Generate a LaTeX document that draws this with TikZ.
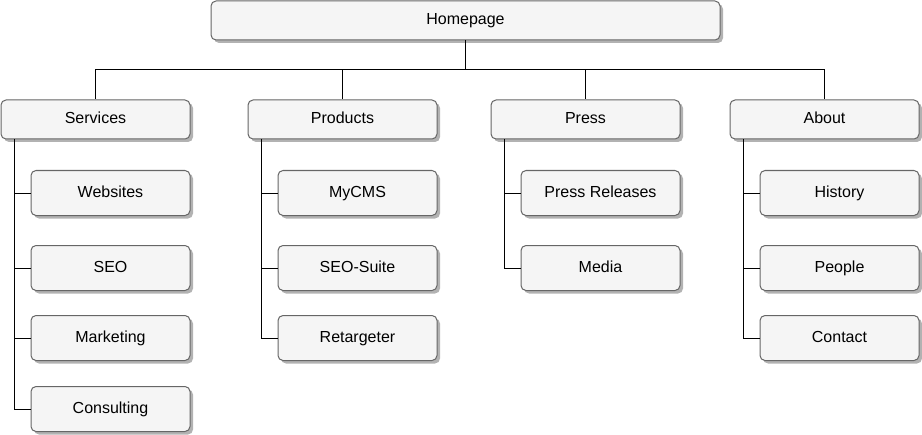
\documentclass[tikz,border=0pt]{standalone}
\usepackage{fontspec}
\setmainfont{Liberation Sans}
\usetikzlibrary{shadows}

\begin{document}
\begin{tikzpicture}[x=0.75pt,y=0.75pt,yscale=-1,xscale=1,
  page/.style={draw={rgb,255:red,102;green,102;blue,102},fill={rgb,255:red,245;green,245;blue,245},
    rounded corners=3.75pt,line width=0.75pt,inner sep=0pt,font=\fontsize{12}{14}\selectfont,
    text height=8.8pt,text depth=2.6pt,
    drop shadow={shadow xshift=2.25pt,shadow yshift=-2.25pt,fill=black,opacity=0.3}},
  section/.style={page,minimum width=141.75pt,minimum height=29.25pt},
  subpage/.style={page,minimum width=119.25pt,minimum height=33.75pt},
  link/.style={line width=0.75pt}]
\useasboundingbox (0,0) rectangle (922,435);

% Homepage
\node[page,minimum width=381.75pt,minimum height=29.25pt] (home) at (465.5,20.5) {Homepage};

% Sections
\node[section] (serv) at (95.5,119.5) {Services};
\node[section] (prod) at (342.5,119.5) {Products};
\node[section] (press) at (585.5,119.5) {Press};
\node[section] (about) at (824.5,119.5) {About};

% Services pages
\node[subpage] (web) at (110.5,193) {Websites};
\node[subpage] (seo) at (110.5,268) {SEO};
\node[subpage] (mark) at (110.5,338) {Marketing};
\node[subpage] (cons) at (110.5,409) {Consulting};

% Products pages
\node[subpage] (cms) at (357.5,193) {MyCMS};
\node[subpage] (suite) at (357.5,268) {SEO-Suite};
\node[subpage] (retarg) at (357.5,338) {Retargeter};

% Press pages
\node[subpage] (rel) at (600.5,193) {Press Releases};
\node[subpage] (media) at (600.5,268) {Media};

% About pages
\node[subpage] (hist) at (839.5,193) {History};
\node[subpage] (people) at (839.5,268) {People};
\node[subpage] (contact) at (839.5,338) {Contact};

% Links
\coordinate (bus) at (465.5,70);
\draw[link] (home) -- (bus);
\foreach \s in {serv,prod,press,about}
  \draw[link] (bus) -| (\s.north);

\foreach \p in {web,seo,mark,cons}
  \draw[link] ([xshift=10.5pt]serv.south west) |- (\p.west);
\foreach \p in {cms,suite,retarg}
  \draw[link] ([xshift=10.5pt]prod.south west) |- (\p.west);
\foreach \p in {rel,media}
  \draw[link] ([xshift=10.5pt]press.south west) |- (\p.west);
\foreach \p in {hist,people,contact}
  \draw[link] ([xshift=10.5pt]about.south west) |- (\p.west);

\end{tikzpicture}
\end{document}
